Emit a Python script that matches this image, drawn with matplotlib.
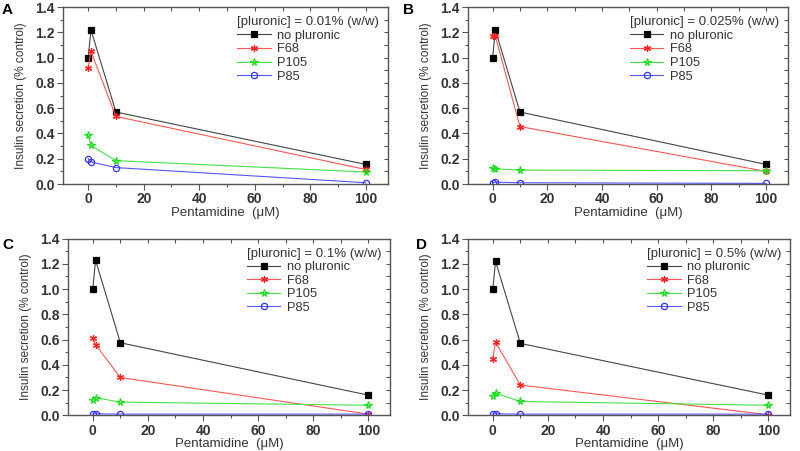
import matplotlib.pyplot as plt
from matplotlib.ticker import MultipleLocator, NullFormatter

plt.rcParams['font.family'] = ['Liberation Sans', 'DejaVu Sans']

pentamidine = [0, 1, 10, 100]
series_names = ["no pluronic", "F68", "P105", "P85"]
panel_letters = ["A", "B", "C", "D"]
concentrations = ["0.01%", "0.025%", "0.1%", "0.5%"]

# insulin secretion per panel, per series (order matches series_names)
panel_a = [[1.00, 1.22, 0.57, 0.155],
           [0.92, 1.05, 0.535, 0.115],
           [0.385, 0.305, 0.185, 0.095],
           [0.20, 0.175, 0.13, 0.01]]
panel_b = [[1.00, 1.22, 0.57, 0.155],
           [1.17, 1.17, 0.455, 0.10],
           [0.125, 0.12, 0.11, 0.105],
           [0.01, 0.015, 0.01, 0.005]]
panel_c = [[1.00, 1.23, 0.575, 0.16],
           [0.61, 0.56, 0.30, 0.01],
           [0.125, 0.14, 0.105, 0.08],
           [0.01, 0.012, 0.01, 0.01]]
panel_d = [[1.00, 1.22, 0.57, 0.16],
           [0.45, 0.58, 0.24, 0.005],
           [0.155, 0.175, 0.11, 0.08],
           [0.01, 0.012, 0.01, 0.01]]
panels = [panel_a, panel_b, panel_c, panel_d]

line_colors = ["#444444", "#ff5555", "#44e044", "#5555ff"]
marker_colors = ["black", "#ff2020", "#22dd22", "#3333ff"]
markers = ["s", (6, 2, 0), "*", "o"]
filled = [True, True, False, False]
msizes = [4, 5, 5.5, 4.5]

positions = [[0.079, 0.592, 0.406, 0.392],
             [0.585, 0.592, 0.400, 0.392],
             [0.085, 0.079, 0.403, 0.392],
             [0.585, 0.079, 0.403, 0.392]]
letter_xy = [(0.002, 0.978), (0.504, 0.978), (0.003, 0.456), (0.520, 0.456)]

txt = "#333333"
fig = plt.figure(figsize=(8, 4.51), dpi=100)

for i in range(4):
    ax = fig.add_axes(positions[i])
    for j in range(4):
        ax.plot(pentamidine, panels[i][j], color=line_colors[j], lw=0.8,
                marker=markers[j], ms=msizes[j],
                mfc=marker_colors[j] if filled[j] else "none", mec=marker_colors[j],
                mew=0.9, label=series_names[j])
    ax.set_xlim(-9, 108)
    ax.set_ylim(0, 1.4)
    ax.xaxis.set_major_locator(MultipleLocator(20))
    ax.xaxis.set_minor_locator(MultipleLocator(10))
    ax.yaxis.set_major_locator(MultipleLocator(0.2))
    ax.yaxis.set_minor_locator(MultipleLocator(0.1))
    ax.yaxis.set_major_formatter(plt.FuncFormatter(lambda v, p: "%.1f" % v))
    ax.tick_params(which="both", direction="out", colors="#555555",
                   labelcolor=txt, labelsize=10, width=0.8, pad=1.5)
    ax.tick_params(which="major", length=4.5)
    ax.tick_params(which="minor", length=2.5)
    for lab in ax.get_xticklabels() + ax.get_yticklabels():
        lab.set_fontweight("bold")
    for sp in ax.spines.values():
        sp.set_color("#555555")
        sp.set_linewidth(1.0)

    # inward ticks on the top and right frame
    top = ax.secondary_xaxis("top")
    top.xaxis.set_major_locator(MultipleLocator(20))
    top.xaxis.set_minor_locator(MultipleLocator(10))
    top.xaxis.set_major_formatter(NullFormatter())
    top.tick_params(which="both", direction="in", colors="#555555", width=0.8, length=3)
    top.spines["top"].set_visible(False)
    right = ax.secondary_yaxis("right")
    right.yaxis.set_major_locator(MultipleLocator(0.2))
    right.yaxis.set_minor_locator(MultipleLocator(0.1))
    right.yaxis.set_major_formatter(NullFormatter())
    right.tick_params(which="both", direction="in", colors="#555555", width=0.8, length=3)
    right.spines["right"].set_visible(False)

    ax.set_xlabel("Pentamidine  (\u03bcM)", fontsize=9.5, color=txt, labelpad=0.5)
    ax.set_ylabel("Insulin secretion (% control)", fontsize=8.6, color=txt, labelpad=6)
    leg = ax.legend(title="[pluronic] = %s (w/w)" % concentrations[i],
                    loc="upper right", frameon=False, fontsize=9.3,
                    title_fontsize=9.5, handlelength=2.6, labelspacing=0.12,
                    borderaxespad=0.3, handletextpad=0.5, alignment="left")
    for t in leg.get_texts():
        t.set_color(txt)
    leg.get_title().set_color(txt)
    fig.text(letter_xy[i][0], letter_xy[i][1], panel_letters[i], fontsize=11,
             fontweight="bold", color="black", va="center")

fig.savefig("out.png", dpi=100)
